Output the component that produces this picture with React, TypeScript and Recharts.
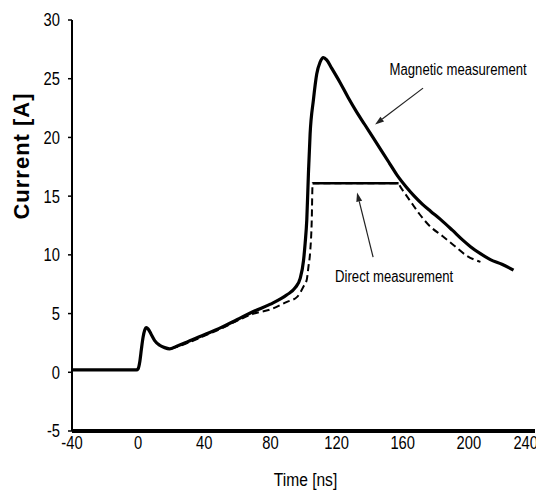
import React from 'react';
import { LineChart, Line, XAxis, YAxis, ReferenceLine, ReferenceDot, Label } from 'recharts';

// Time [ns] and current [A]
const magneticT = [-40, -1, 0, 1, 2, 3, 4, 5, 6, 8, 10, 13, 16, 19, 23, 30, 40, 50, 60, 70, 80, 90, 95, 98, 100, 101, 102, 103, 104, 106, 108, 110, 112, 114, 117, 122, 127, 132, 137, 142, 147, 152, 157, 162, 167, 172, 177, 183, 190, 196, 201, 207, 213, 220, 227];
const magneticI = [0.2, 0.2, 0.3, 0.9, 2.0, 3.0, 3.6, 3.8, 3.7, 3.2, 2.7, 2.3, 2.1, 2.0, 2.2, 2.6, 3.2, 3.8, 4.5, 5.2, 5.8, 6.6, 7.2, 8.0, 9.5, 11.0, 13.0, 17.0, 20.3, 23.2, 25.4, 26.4, 26.8, 26.6, 25.9, 24.7, 23.4, 22.2, 21.1, 20.0, 18.9, 17.8, 16.7, 15.8, 15.0, 14.3, 13.7, 13.0, 12.1, 11.3, 10.7, 10.1, 9.6, 9.2, 8.7];

const directT = [20, 30, 40, 50, 60, 70, 80, 90, 96, 100, 102, 103, 104, 105, 105.5, 130, 157, 159, 165, 170, 176, 184, 191, 199, 207];
const directI = [2.0, 2.5, 3.1, 3.7, 4.4, 5.0, 5.35, 6.0, 6.4, 7.3, 7.9, 9.0, 10.2, 13.0, 16.1, 16.1, 16.1, 15.7, 14.5, 13.5, 12.5, 11.6, 10.8, 9.9, 9.4];

// saturated part of the direct probe
const clipT = [105.5, 157.5];
const clipI = [16.1, 16.1];

const xTicks = [-40, 0, 40, 80, 120, 160, 200, 240];
const yTicks = [-5, 0, 5, 10, 15, 20, 25, 30];

const noteText = ['Magnetic measurement', 'Direct measurement'];
const noteAt = [[193.5, 25.8], [154.8, 8.2]];
const arrowFrom = [[172.3, 24.2], [142.1, 9.8]];
const arrowTo = [[143.3, 21.1], [132.4, 15.3]];

const toRows = (ts: number[], is: number[]) => ts.map((t, k) => ({ t, i: is[k] }));

const magneticData = toRows(magneticT, magneticI);
const directData = toRows(directT, directI);
const clipData = toRows(clipT, clipI);

const sans = '"Liberation Sans", Arial, sans-serif';

// condensed look of the scanned figure: squeeze text horizontally
const NarrowText = ({ x, y, size, anchor = 'middle', dy = '0', children }: any) => (
  <text
    transform={`translate(${x},${y}) scale(0.82,1)`}
    textAnchor={anchor}
    dy={dy}
    fontSize={size}
    fontFamily={sans}
    fill="#000"
  >
    {children}
  </text>
);

const XTick = ({ x, y, payload }: any) => {
  const last = payload.value === xTicks[xTicks.length - 1];
  return (
    <NarrowText x={last ? x + 6 : x} y={y} size={18} anchor={last ? 'end' : 'middle'} dy="0.71em">
      {payload.value}
    </NarrowText>
  );
};

const YTick = ({ x, y, payload }: any) => (
  <NarrowText x={x} y={y} size={18} anchor="end" dy="0.355em">
    {payload.value}
  </NarrowText>
);

const Arrow = (props: any) => {
  const { x1, y1, x2, y2 } = props;
  const a = Math.atan2(y2 - y1, x2 - x1);
  const len = 9;
  const w = 3;
  const bx = x2 - len * Math.cos(a);
  const by = y2 - len * Math.sin(a);
  const px = -Math.sin(a) * w;
  const py = Math.cos(a) * w;
  return (
    <g>
      <line x1={x1} y1={y1} x2={bx} y2={by} stroke="#222" strokeWidth={1.2} />
      <polygon points={`${x2},${y2} ${bx + px},${by + py} ${bx - px},${by - py}`} fill="#222" />
    </g>
  );
};

export default function App() {
  return (
    <LineChart width={536} height={485} margin={{ top: 12, right: 9, left: 4, bottom: 32 }}>
      <XAxis
        type="number"
        dataKey="t"
        domain={[-40, 240]}
        ticks={xTicks}
        allowDataOverflow
        height={30}
        axisLine={{ stroke: '#000', strokeWidth: 4 }}
        tickLine={false}
        tickSize={3}
        tickMargin={2}
        tick={<XTick />}
      >
        <Label
          content={({ viewBox }: any) => (
            <NarrowText x={viewBox.x + viewBox.width / 2 + 2} y={viewBox.y + 55} size={19}>
              Time [ns]
            </NarrowText>
          )}
        />
      </XAxis>
      <YAxis
        type="number"
        domain={[-5, 30]}
        ticks={yTicks}
        allowDataOverflow
        width={60}
        axisLine={{ stroke: '#000', strokeWidth: 2 }}
        tickLine={{ stroke: '#000', strokeWidth: 1.5 }}
        tickSize={4}
        tickMargin={8}
        tick={<YTick />}
      >
        <Label
          content={({ viewBox }: any) => (
            <text
              x={viewBox.x + 9}
              y={viewBox.y + 136}
              transform={`rotate(-90, ${viewBox.x + 9}, ${viewBox.y + 136})`}
              textAnchor="middle"
              dominantBaseline="central"
              fontSize={22}
              fontWeight="bold"
              letterSpacing={1}
              fontFamily={sans}
              fill="#000"
            >
              Current [A]
            </text>
          )}
        />
      </YAxis>

      <Line data={directData} dataKey="i" type="monotone" stroke="#000" strokeWidth={2} strokeDasharray="7 4" dot={false} isAnimationActive={false} />
      <Line data={magneticData} dataKey="i" type="monotone" stroke="#000" strokeWidth={3.2} dot={false} isAnimationActive={false} />
      <Line data={clipData} dataKey="i" type="linear" stroke="#000" strokeWidth={2.5} dot={false} isAnimationActive={false} />

      {noteText.map((txt, k) => (
        <ReferenceLine
          key={`arrow-${k}`}
          segment={[
            { x: arrowFrom[k][0], y: arrowFrom[k][1] },
            { x: arrowTo[k][0], y: arrowTo[k][1] },
          ]}
          shape={Arrow}
        />
      ))}
      {noteText.map((txt, k) => (
        <ReferenceDot
          key={`note-${k}`}
          x={noteAt[k][0]}
          y={noteAt[k][1]}
          r={0}
          fill="none"
          stroke="none"
          label={{
            content: ({ viewBox }: any) => (
              <NarrowText x={viewBox.x + (viewBox.width || 0) / 2} y={viewBox.y + (viewBox.height || 0) / 2} size={16} dy="0.355em">
                {txt}
              </NarrowText>
            ),
          }}
        />
      ))}
    </LineChart>
  );
}
